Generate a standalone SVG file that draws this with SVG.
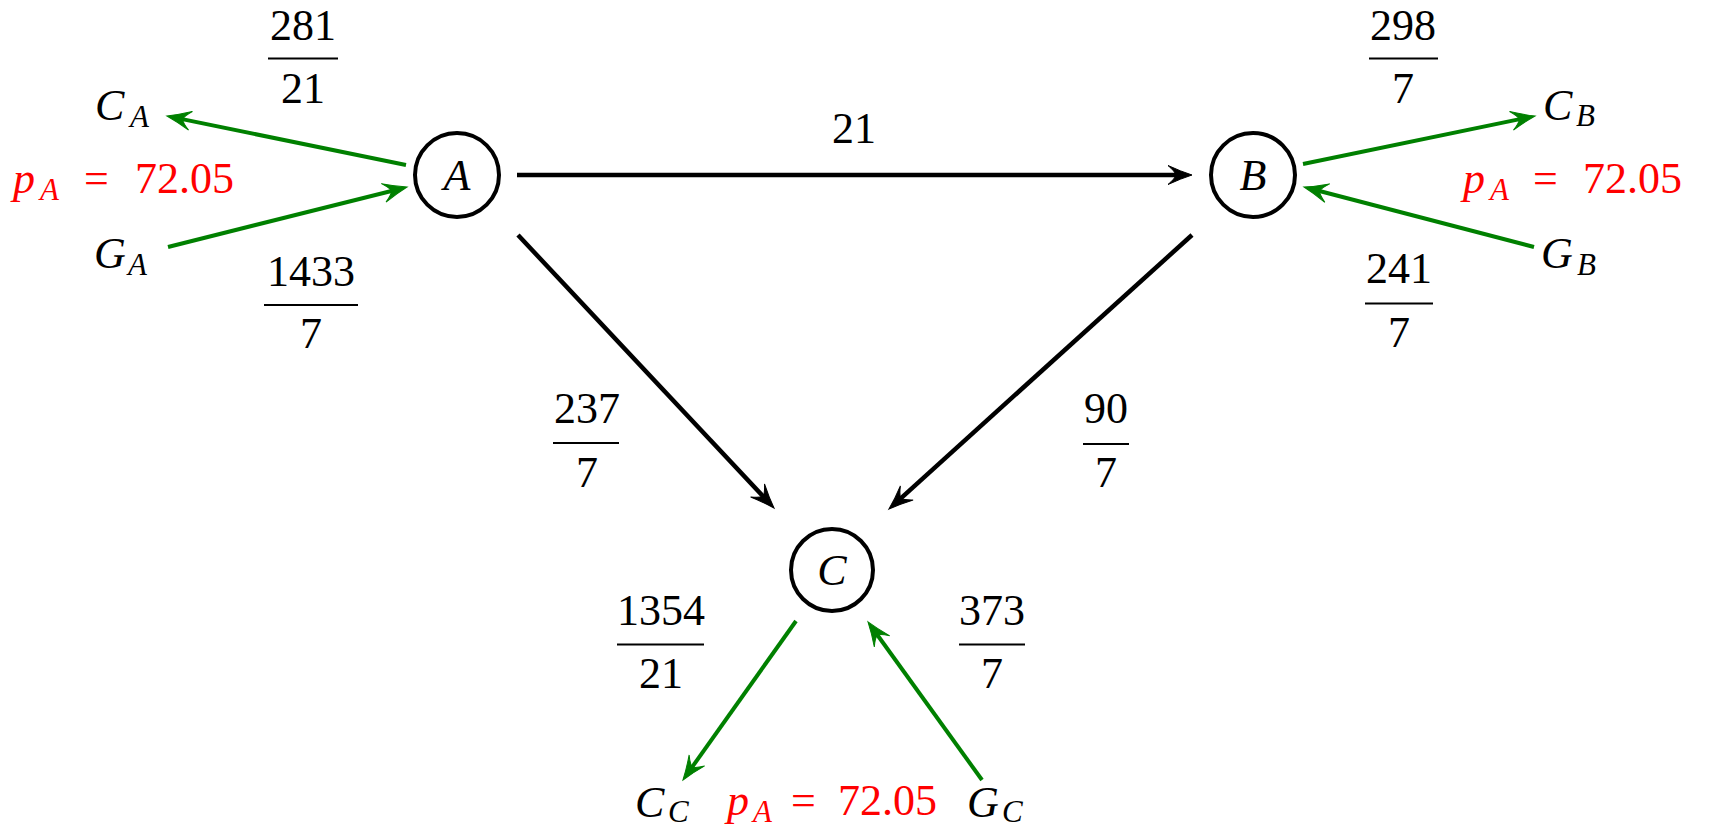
<svg xmlns="http://www.w3.org/2000/svg" width="1716" height="827" viewBox="0 0 1716 827">
<style>
.t{font-family:"Liberation Serif","Times New Roman",Tinos,"DejaVu Serif","Noto Serif",serif;font-size:44px;fill:#000}
.i{font-style:italic}
.s{font-size:31px;font-style:italic}
.r{fill:#ff0000}
.c{text-anchor:middle}
.node{fill:none;stroke:#000;stroke-width:4}
.bar{stroke:#000;stroke-width:2}
.e{fill:none;stroke:#000;stroke-width:4.5}
.g{fill:none;stroke:#008000;stroke-width:4}
</style>
<defs>
<marker id="ab" markerUnits="userSpaceOnUse" markerWidth="40" markerHeight="40" refX="0" refY="0" viewBox="-20 -20 40 40" orient="auto" overflow="visible">
<path d="M13,0 Q2,-3.5 -11,-9.5 Q-4,-3.5 -3,0 Q-4,3.5 -11,9.5 Q2,3.5 13,0 Z" fill="#000" stroke="#000" stroke-width="1"/>
</marker>
<marker id="ag" markerUnits="userSpaceOnUse" markerWidth="40" markerHeight="40" refX="0" refY="0" viewBox="-20 -20 40 40" orient="auto" overflow="visible">
<path d="M13,0 Q2,-3.5 -11,-9.5 Q-4,-3.5 -3,0 Q-4,3.5 -11,9.5 Q2,3.5 13,0 Z" fill="#008000" stroke="#008000" stroke-width="1"/>
</marker>
</defs>
<rect width="1716" height="827" fill="#fff"/>
<g id="connectors">
<line class="e" x1="517" y1="175" x2="1179" y2="175" marker-end="url(#ab)"/>
<line class="e" x1="518" y1="235" x2="765.1" y2="498.5" marker-end="url(#ab)"/>
<line class="e" x1="1192" y1="235" x2="898.6" y2="500.3" marker-end="url(#ab)"/>
<line class="g" x1="406" y1="165" x2="179.7" y2="118.6" marker-end="url(#ag)"/>
<line class="g" x1="168" y1="247" x2="394.4" y2="190.2" marker-end="url(#ag)"/>
<line class="g" x1="1303" y1="164" x2="1522.3" y2="118.6" marker-end="url(#ag)"/>
<line class="g" x1="1534" y1="247" x2="1316.6" y2="190.3" marker-end="url(#ag)"/>
<line class="g" x1="796" y1="621" x2="690.5" y2="769.4" marker-end="url(#ag)"/>
<line class="g" x1="982" y1="780" x2="875.6" y2="632.5" marker-end="url(#ag)"/>
</g>
<g id="nodeA"><circle class="node" cx="457" cy="175" r="42"/><text class="t i c" x="457" y="190">A</text></g>
<g id="nodeB"><circle class="node" cx="1253" cy="175" r="42"/><text class="t i c" x="1253" y="190">B</text></g>
<g id="nodeC"><circle class="node" cx="832" cy="570" r="41"/><text class="t i c" x="832" y="585">C</text></g>
<g id="CA"><text class="t i" x="95" y="120">C</text><text class="t s" x="130" y="127">A</text></g>
<g id="GA"><text class="t i" x="94" y="268">G</text><text class="t s" x="128" y="275">A</text></g>
<g id="CB"><text class="t i" x="1543" y="120">C</text><text class="t s" x="1576" y="126">B</text></g>
<g id="GB"><text class="t i" x="1541" y="268">G</text><text class="t s" x="1577" y="275">B</text></g>
<g id="CC"><text class="t i" x="635" y="817">C</text><text class="t s" x="668" y="822">C</text></g>
<g id="GC"><text class="t i" x="967" y="817">G</text><text class="t s" x="1002" y="822">C</text></g>
<g id="pA1"><text class="t i r" x="13" y="193">p</text><text class="t s r" x="40" y="200">A</text><text class="t r" x="84" y="193">=</text><text class="t r" x="135" y="193">72.05</text></g>
<g id="pA2"><text class="t i r" x="1463" y="193">p</text><text class="t s r" x="1490" y="200">A</text><text class="t r" x="1533" y="193">=</text><text class="t r" x="1583" y="193">72.05</text></g>
<g id="pA3"><text class="t i r" x="727" y="815">p</text><text class="t s r" x="753" y="822">A</text><text class="t r" x="791" y="815">=</text><text class="t r" x="838" y="815">72.05</text></g>
<g id="labels">
<text class="t c" x="303" y="40">281</text><line class="bar" x1="268" y1="58.5" x2="338" y2="58.5"/><text class="t c" x="303" y="103">21</text>
<text class="t c" x="311" y="286">1433</text><line class="bar" x1="264" y1="305" x2="358" y2="305"/><text class="t c" x="311" y="348">7</text>
<text class="t c" x="1403" y="40">298</text><line class="bar" x1="1369" y1="58.5" x2="1438" y2="58.5"/><text class="t c" x="1403" y="103">7</text>
<text class="t c" x="1399" y="283">241</text><line class="bar" x1="1365" y1="303.5" x2="1433" y2="303.5"/><text class="t c" x="1399" y="347">7</text>
<text class="t c" x="854" y="143">21</text>
<text class="t c" x="587" y="423">237</text><line class="bar" x1="553" y1="443" x2="619" y2="443"/><text class="t c" x="587" y="487">7</text>
<text class="t c" x="1106" y="423">90</text><line class="bar" x1="1083" y1="444" x2="1129" y2="444"/><text class="t c" x="1106" y="487">7</text>
<text class="t c" x="661" y="625">1354</text><line class="bar" x1="617" y1="644.5" x2="704" y2="644.5"/><text class="t c" x="661" y="688">21</text>
<text class="t c" x="992" y="625">373</text><line class="bar" x1="959" y1="644.5" x2="1025" y2="644.5"/><text class="t c" x="992" y="688">7</text>
</g>
</svg>
